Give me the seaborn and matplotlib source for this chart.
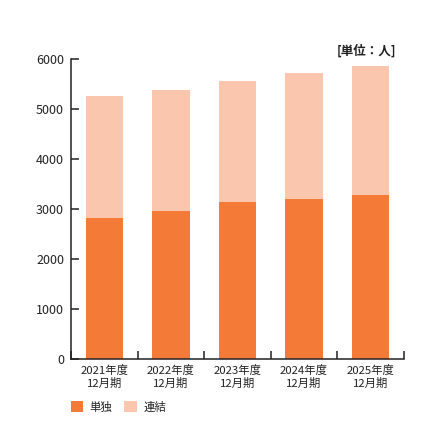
import matplotlib
matplotlib.use("Agg")
import matplotlib.pyplot as plt
import seaborn as sns
import pandas as pd
from matplotlib.patches import Patch
from matplotlib.ticker import FixedLocator

categories = ["2021年度\n12月期", "2022年度\n12月期", "2023年度\n12月期", "2024年度\n12月期", "2025年度\n12月期"]
renketsu = [5266, 5373, 5560, 5720, 5866]
tandoku = [2814, 2967, 3147, 3193, 3273]
series_names = ["単独", "連結"]
yticks = [0, 1000, 2000, 3000, 4000, 5000, 6000]
unit_label = "[単位：人]"

c_dark = "#F47A37"
c_light = "#FBC6AE"

sns.set_style("ticks")
plt.rcParams['font.family'] = ['Noto Sans CJK JP', 'DejaVu Sans']

df = pd.DataFrame({"cat": categories, "renketsu": renketsu, "tandoku": tandoku})

fig = plt.figure(figsize=(4.4, 4.4), dpi=100)
ax = fig.add_axes([71/440, 1-359/440, (404-71)/440, (359-59)/440])

sns.barplot(data=df, x="cat", y="renketsu", color=c_light, width=0.56, ax=ax,
            saturation=1, edgecolor="none")
sns.barplot(data=df, x="cat", y="tandoku", color=c_dark, width=0.56, ax=ax,
            saturation=1, edgecolor="none")

ax.set_xlim(-0.5, len(categories) - 0.5)
ax.set_ylim(0, 6000)
ax.set_yticks(yticks)
ax.set_yticklabels([str(v) for v in yticks], fontsize=9, color="#222222")
ax.set_xlabel("")
ax.set_ylabel("")
ax.tick_params(axis="x", which="major", length=0, pad=4, labelsize=8.2, labelcolor="#222222")
ax.xaxis.set_minor_locator(FixedLocator([i - 0.5 for i in range(len(categories) + 1)]))
ax.tick_params(axis="x", which="minor", direction="in", length=6, width=1.1, color="#222222")
ax.tick_params(axis="y", direction="in", length=6, width=1.1, color="#222222", pad=5)
for lbl in ax.get_xticklabels():
    lbl.set_linespacing(1.25)

for s in ["top", "right"]:
    ax.spines[s].set_visible(False)
for s in ["left", "bottom"]:
    ax.spines[s].set_linewidth(1.1)
    ax.spines[s].set_color("#222222")

fig.text(396/440, 1-51/440, unit_label, ha="right", va="center", fontsize=9,
         fontweight="bold", color="#222222")

handles = [Patch(facecolor=c_dark, edgecolor="none"), Patch(facecolor=c_light, edgecolor="none")]
fig.legend(handles, series_names, loc="center left", bbox_to_anchor=(70.5/440, 1-407/440),
           ncol=2, frameon=False, fontsize=8.2, handlelength=1.1, handleheight=1.1,
           handletextpad=0.6, columnspacing=1.0, borderpad=0, borderaxespad=0,
           labelcolor="#222222")

fig.savefig("out.png", dpi=100, facecolor="white")
